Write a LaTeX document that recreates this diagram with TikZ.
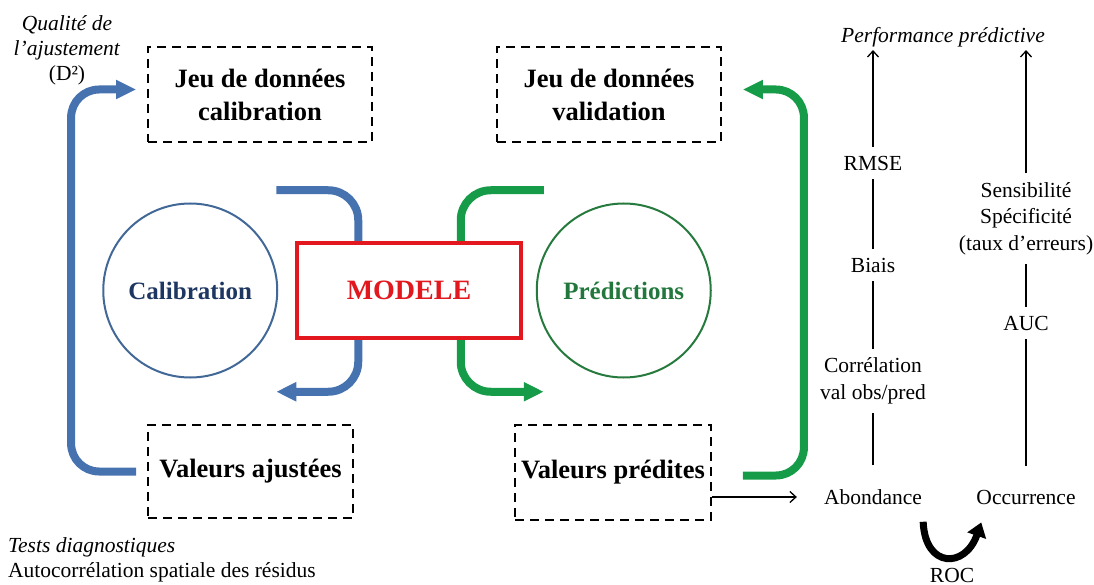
\documentclass[tikz,border=0pt]{standalone}
\usepackage{fontspec}
\setmainfont{Liberation Serif}
\usetikzlibrary{positioning, arrows.meta, backgrounds}
\definecolor{CalBlue}{RGB}{70,115,176}
\definecolor{CalLine}{RGB}{66,104,152}
\definecolor{CalText}{RGB}{30,55,98}
\definecolor{PredGreen}{RGB}{22,156,72}
\definecolor{PredLine}{RGB}{38,122,62}
\definecolor{PredText}{RGB}{34,120,60}
\definecolor{ModRed}{RGB}{226,24,30}

\begin{document}
\begin{tikzpicture}[x = 1pt, y = -1pt]%
    %
    \tikzstyle{databox} = [rectangle, draw = black, dash pattern = on 9pt off 6pt, line width = 1.8pt, minimum width = 224pt, minimum height = 95pt, inner sep = 4pt, align = center, font = \fontsize{26.5}{33}\selectfont\bfseries]%
    \tikzstyle{modelbox} = [rectangle, draw = ModRed, fill = white, line width = 3.5pt, minimum width = 224pt, minimum height = 95pt, text = ModRed, font = \fontsize{28}{33}\selectfont\bfseries]%
    \tikzstyle{stage} = [circle, line width = 2pt, minimum size = 174pt, inner sep = 0pt, font = \fontsize{25}{30}\selectfont\bfseries]%
    \tikzstyle{measure} = [align = center, inner sep = 9pt, font = \fontsize{21.5}{26.5}\selectfont]%
    \tikzstyle{note} = [align = center, inner sep = 0pt, font = \fontsize{21.5}{25}\selectfont]%
    \tikzstyle{bluearrow} = [draw = CalBlue, line width = 8pt, rounded corners = 28pt, -{Triangle[length = 20pt, width = 18pt]}]%
    \tikzstyle{greenarrow} = [draw = PredGreen, line width = 8pt, rounded corners = 28pt, -{Triangle[length = 20pt, width = 18pt]}]%
    \tikzstyle{link} = [draw = black, line width = 1.3pt]%
    \tikzstyle{fine} = [link, -{Straight Barb[length = 6pt, width = 11pt]}]%
    \tikzstyle{rocarrow} = [draw = black, line width = 7pt, -{Triangle[length = 14pt, width = 19pt]}]%
    %
    \useasboundingbox (0, 0) rectangle (1094, 585);%
    %
    \node [databox] (jcal) at (260, 94.5) {Jeu de données\\calibration};%
    \node [databox] (jval) at (609, 94.5) {Jeu de données\\validation};%
    \node [databox, minimum width = 205pt, minimum height = 93pt] (vaj) at (250.5, 471.5) {Valeurs ajustées};%
    \node [databox, minimum width = 196pt] (vpred) at (613, 472.5) {Valeurs prédites};%
    %
    \node [modelbox] (modele) at (409, 290.5) {MODELE};%
    \node [stage, draw = CalLine, text = CalText, left = 17pt of modele] (calib) {Calibration};%
    \node [stage, draw = PredLine, text = PredText, right = 13pt of modele] (pred) {Prédictions};%
    %
    \node [note] (qual) at (67, 50) {\textit{Qualité de}\\\textit{l’ajustement}\\(D²)};%
    \node [note, anchor = west, align = left] (tests) at (8, 560) {\textit{Tests diagnostiques}\\Autocorrélation spatiale des résidus};%
    %
    \node [measure, inner sep = 3pt, font = \fontsize{21.5}{26.5}\selectfont\itshape] (perf) at (943, 37) {Performance prédictive};%
    \node [measure] (rmse) at (873, 163) {RMSE};%
    \node [measure] (biais) at (873, 265) {Biais};%
    \node [measure] (corr) at (873, 381) {Corrélation\\val obs/pred};%
    \node [measure] (abond) at (873, 497) {Abondance};%
    \node [measure] (sens) at (1026, 218.5) {Sensibilité\\Spécificité\\(taux d’erreurs)};%
    \node [measure] (auc) at (1026, 323) {AUC};%
    \node [measure] (occur) at (1026, 497) {Occurrence};%
    \node [measure, inner sep = 0pt] (roc) at (952, 575) {ROC};%
    %
    \draw [fine] (rmse) -- (rmse |- perf.south);%
    \draw [link] (rmse) -- (biais);%
    \draw [link] (biais) -- (corr);%
    \draw [link, shorten <= 15pt] (abond) -- (corr);%
    \draw [fine] (sens) -- (sens |- perf.south);%
    \draw [link] (sens) -- (auc);%
    \draw [link, shorten <= 15pt] (occur) -- (auc);%
    \draw [fine, shorten >= 18pt] (vpred.east |- abond) -- (abond);%
    \draw [rocarrow] ([xshift = -8pt, yshift = -8pt]abond.south east) .. controls +(2, 47) and +(-16, 46) .. ([xshift = 14pt, yshift = -9pt]occur.south west);%
    %
    \begin{scope}[on background layer]%
        \draw [bluearrow] ([xshift = -11pt]vaj.west) -- ++(-65, 0) |- ([xshift = -11pt, yshift = 5pt]jcal.west);%
        \draw [bluearrow, rounded corners = 30pt] ([xshift = -19pt, yshift = 51pt]modele.north west) -| ([xshift = 63pt, yshift = -52pt]modele.south west) -- ([xshift = -19pt, yshift = -52pt]modele.south west);%
        \draw [greenarrow, rounded corners = 30pt] ([xshift = 21pt, yshift = 51pt]modele.north east) -| ([xshift = -62pt, yshift = -52pt]modele.south east) -- ([xshift = 21pt, yshift = -52pt]modele.south east);%
        \draw [greenarrow] ([xshift = 31pt, yshift = -3pt]vpred.east) -- ++(61, 0) |- ([xshift = 21pt, yshift = 5pt]jval.east);%
    \end{scope}%
    %
\end{tikzpicture}
\end{document}
